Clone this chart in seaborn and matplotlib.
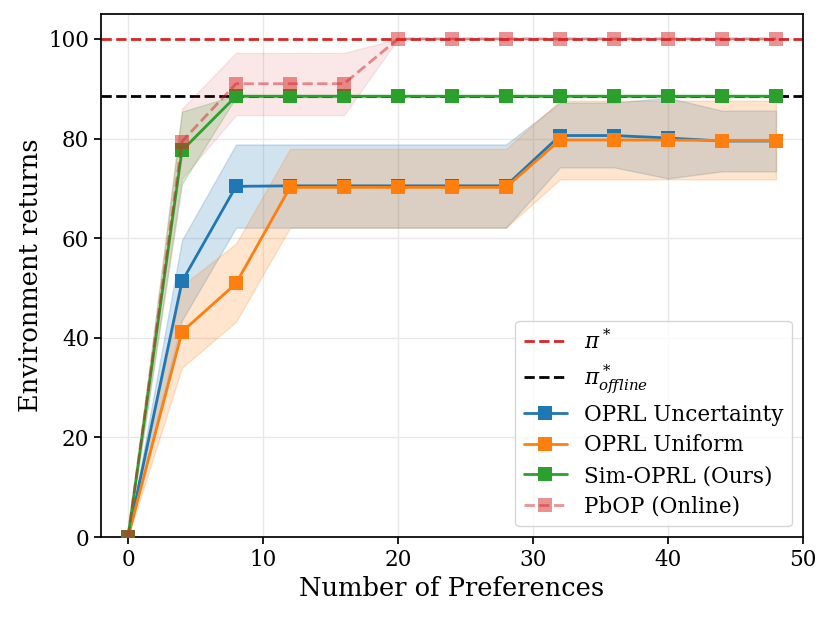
import numpy as np
import pandas as pd
import matplotlib
matplotlib.use("Agg")
import matplotlib.pyplot as plt
import seaborn as sns

# Data
n_prefs = [0, 4, 8, 12, 16, 20, 24, 28, 32, 36, 40, 44, 48]
unc_mean = [0, 51.3, 70.4, 70.5, 70.5, 70.5, 70.5, 70.5, 80.6, 80.6, 80.1, 79.5, 79.5]
unc_lo = [0, 43.5, 62.1, 62.1, 62.1, 62.1, 62.1, 62.1, 74.2, 74.2, 72.0, 73.4, 73.4]
unc_hi = [0, 59.6, 78.8, 78.8, 78.8, 78.8, 78.8, 78.8, 87.2, 87.2, 88.2, 85.6, 85.6]
uni_mean = [0, 41.2, 50.9, 70.2, 70.2, 70.2, 70.2, 70.2, 79.7, 79.7, 79.7, 79.6, 79.6]
uni_lo = [0, 34.0, 43.2, 62.1, 62.1, 62.1, 62.1, 62.1, 71.8, 71.8, 71.8, 71.8, 71.8]
uni_hi = [0, 50.5, 58.9, 77.9, 77.9, 77.9, 77.9, 77.9, 87.6, 87.6, 87.6, 87.6, 87.6]
sim_mean = [0, 77.6, 88.5, 88.5, 88.5, 88.5, 88.5, 88.5, 88.5, 88.5, 88.5, 88.5, 88.5]
sim_lo = [0, 70.9, 88.3, 88.3, 88.3, 88.3, 88.3, 88.3, 88.3, 88.3, 88.3, 88.3, 88.3]
sim_hi = [0, 85.4, 88.7, 88.7, 88.7, 88.7, 88.7, 88.7, 88.7, 88.7, 88.7, 88.7, 88.7]
pbop_mean = [0, 79.4, 91.0, 91.0, 91.0, 100, 100, 100, 100, 100, 100, 100, 100]
pbop_lo = [0, 72.0, 84.7, 84.7, 84.7, 100, 100, 100, 100, 100, 100, 100, 100]
pbop_hi = [0, 86.0, 97.2, 97.2, 97.2, 100, 100, 100, 100, 100, 100, 100, 100]
pi_star = 100.0
pi_offline = 88.5

sns.set_theme(style="whitegrid", rc={
    "axes.edgecolor": "black",
    "axes.linewidth": 1.25,
    "grid.color": "#e8e8e8",
    "xtick.bottom": True,
    "ytick.left": True,
    "xtick.major.size": 5,
    "ytick.major.size": 5,
    "xtick.color": "black",
    "ytick.color": "black",
    "text.color": "black",
    "axes.labelcolor": "black",
})
plt.rcParams["font.family"] = ["DejaVu Serif"]
plt.rcParams["mathtext.fontset"] = "dejavuserif"

fig = plt.figure(figsize=(8.31, 6.18), dpi=100)
ax = fig.add_axes([101 / 831, 81 / 618, 702 / 831, 523 / 618])

blue, orange, green, red = "#1f77b4", "#ff7f0e", "#2ca02c", "#d62728"

ax.axhline(pi_star, color=red, ls="--", lw=2, label=r"$\pi^*$")
ax.axhline(pi_offline, color="black", ls="--", lw=2, label=r"$\pi^*_{offline}$")

series = [
    ("OPRL Uncertainty", unc_mean, unc_lo, unc_hi, blue, "-", 1.0),
    ("OPRL Uniform", uni_mean, uni_lo, uni_hi, orange, "-", 1.0),
    ("Sim-OPRL (Ours)", sim_mean, sim_lo, sim_hi, green, "-", 1.0),
    ("PbOP (Online)", pbop_mean, pbop_lo, pbop_hi, red, "--", 0.5),
]
for name, m, lo, hi, c, ls, a in series:
    df = pd.DataFrame({"x": n_prefs, "y": m})
    sns.lineplot(data=df, x="x", y="y", ax=ax, color=c, linestyle=ls, lw=2,
                 marker="s", markersize=10, markeredgewidth=0, alpha=a,
                 label=name, zorder=3)
    ax.fill_between(n_prefs, lo, hi, color=c, alpha=0.2 * a, lw=1, zorder=2)

ax.set_xlim(-2, 50)
ax.set_ylim(0, 105)
ax.set_xticks([0, 10, 20, 30, 40, 50])
ax.set_yticks([0, 20, 40, 60, 80, 100])
ax.tick_params(labelsize=15.5)
ax.set_xlabel("Number of Preferences", fontsize=18.5)
ax.set_ylabel("Environment returns", fontsize=18.5)
leg = ax.legend(loc="lower right", fontsize=15.5, frameon=True, borderaxespad=0.5,
                framealpha=0.8, labelspacing=0.4)
leg.get_frame().set_edgecolor("#cccccc")

fig.savefig("out.png", dpi=100)
